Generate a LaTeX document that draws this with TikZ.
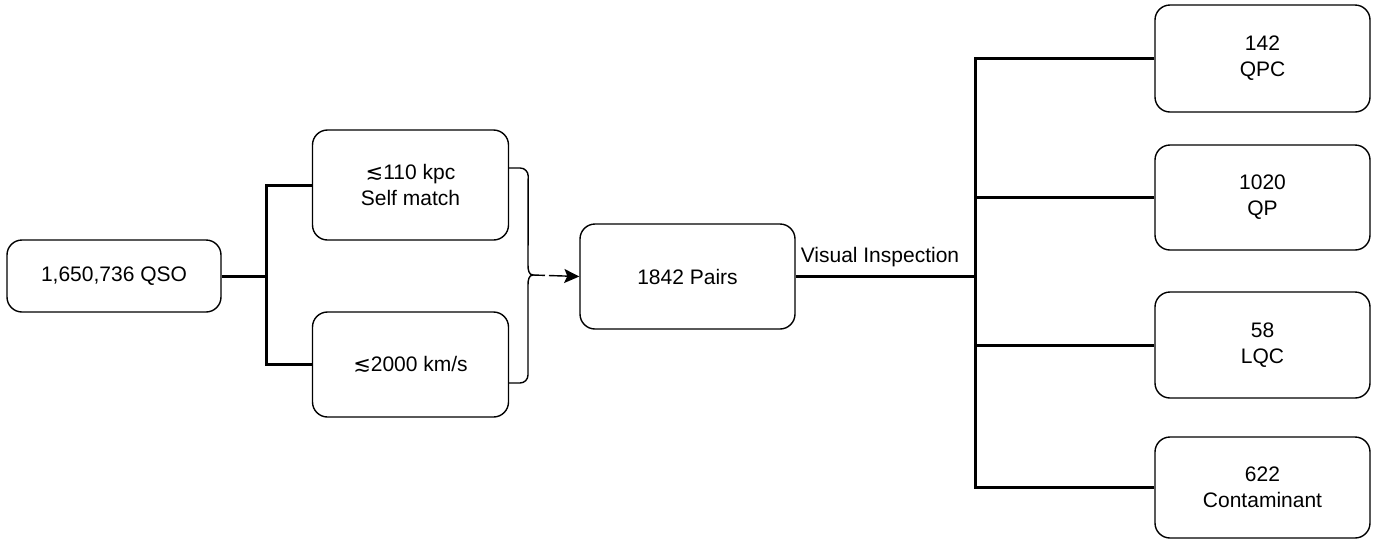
\documentclass[tikz,border=0pt]{standalone}
\usepackage{fontspec}
\setmainfont{Liberation Sans}
\newfontfamily\symfont{DejaVu Sans}
\usetikzlibrary{arrows.meta}
\tikzset{
  box/.style={draw=black, line width=1.4pt, rounded corners=15pt, fill=white,
    align=center, inner sep=0pt, font=\fontsize{21}{26}\selectfont},
  link/.style={line width=3pt},
  flow/.style={line width=1.4pt, dash pattern=on 12pt off 4pt on 60pt off 0pt,
    -{Stealth[length=15pt,width=14pt,inset=3pt]}},
  bracket/.style={line width=1.4pt},
  tag/.style={font=\fontsize{21}{26}\selectfont, inner sep=0pt}
}
\begin{document}
\begin{tikzpicture}[x=1pt, y=-1pt]
\useasboundingbox (0,0) rectangle (1379,542);

% source catalogue
\node[box, minimum width=214pt, minimum height=72pt] (qso) at (114,276) {1,650,736 QSO};

% selection criteria
\node[box, minimum width=196pt, minimum height=110pt] (kpc) at (410.5,185) {{\symfont ≲}110 kpc\\Self match};
\node[box, minimum width=196pt, minimum height=105pt] (kms) at (410.5,364.5) {{\symfont ≲}2000 km/s};

% candidate pairs
\node[box, minimum width=215pt, minimum height=105pt] (pairs) at (687.5,276.5) {1842 Pairs};

% classes after inspection
\node[box, minimum width=215pt, minimum height=107pt] (qpc) at (1262.5,58.5) {142\\QPC};
\node[box, minimum width=215pt, minimum height=105pt] (qp) at (1262.5,197.5) {1020\\QP};
\node[box, minimum width=215pt, minimum height=106pt] (lqc) at (1262.5,345) {58\\LQC};
\node[box, minimum width=215pt, minimum height=101pt] (cont) at (1262.5,487.5) {622\\Contaminant};

% split to the two criteria
\coordinate (fork1) at (266,276);
\draw[link] (qso.east) -- (fork1);
\draw[link] (kpc.west) -| (fork1) |- (kms.west);

% curly bracket joining both criteria
\coordinate (tip) at (533,275);
\draw[bracket] (kpc.east |- 0,168) -- ++(11,0) to[out=0,in=90] ++(8,8)
  -- (528,265) to[out=-90,in=180] (tip)
  to[out=180,in=90] (528,285)
  -- (528,375) to[out=-90,in=0] ++(-8,8) -- (kms.east |- 0,383);
\draw[flow] (tip) -- (pairs.west);

% inspection tree
\coordinate (fork2) at (975,276.5);
\draw[link] (pairs.east) -- node[tag, above=8pt, pos=0.47] (vis) {Visual Inspection} (fork2);
\draw[link] (qpc.west) -| (fork2 |- qpc.west) -- (fork2 |- cont.west) -- (cont.west);
\draw[link] (fork2 |- qp.west) -- (qp.west);
\draw[link] (fork2 |- lqc.west) -- (lqc.west);
\end{tikzpicture}
\end{document}
